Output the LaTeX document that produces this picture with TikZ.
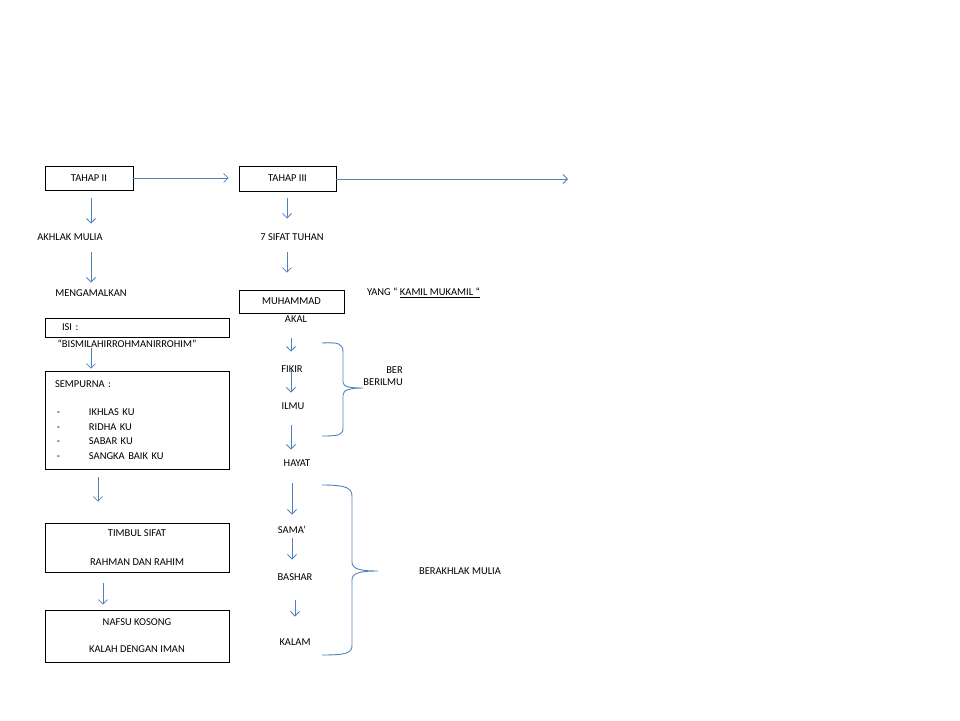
\documentclass[tikz,border=0pt]{standalone}
\usepackage{fontspec}
\setmainfont{Carlito}
\usetikzlibrary{arrows.meta}

\tikzset{
  box/.style = {draw=black, line width=0.7pt, inner sep=0pt, align=center},
  lbl/.style = {inner sep=1pt, text height=6.8pt, text depth=0pt},
  arr/.style = {draw={rgb,255:red,79;green,129;blue,189}, line width=0.75pt,
                -{Straight Barb[length=4.5pt,width=9pt]}},
  brc/.style = {draw={rgb,255:red,79;green,129;blue,189}, line width=0.9pt}
}

\begin{document}
\begin{tikzpicture}[x=1pt, y=-1pt, font=\fontsize{10.5}{14.7}\selectfont]
\useasboundingbox (0,0) rectangle (960,720);

% left column
\node[box, minimum width=88, minimum height=24] (tahapii) at (89,178) {TAHAP II};
\node[lbl] (akhlak) at (70,237) {AKHLAK MULIA};
\node[lbl] (mengamalkan) at (91,293) {MENGAMALKAN};
\node[box, minimum width=184, minimum height=19, inner xsep=17pt, text width=150pt, align=left] (isi) at (137,327.5) {ISI :};
\node[lbl] (bismillah) at (127,344) {“BISMILAHIRROHMANIRROHIM”};
\node[box, minimum width=184, minimum height=98, inner xsep=10pt, text width=164pt, align=left] (sempurna) at (137,420)
  {SEMPURNA :\\[13.3pt]
   \makebox[34pt][l]{\,-}IKHLAS KU\\
   \makebox[34pt][l]{\,-}RIDHA KU\\
   \makebox[34pt][l]{\,-}SABAR KU\\
   \makebox[34pt][l]{\,-}SANGKA BAIK KU};
\node[box, minimum width=184, minimum height=49] (timbul) at (137,547.5) {TIMBUL SIFAT\\[14.3pt]RAHMAN DAN RAHIM};
\node[box, minimum width=184, minimum height=52] (nafsu) at (137,636) {NAFSU KOSONG\\[12.3pt]KALAH DENGAN IMAN};

% right column
\node[box, minimum width=97, minimum height=25] (tahapiii) at (287.5,178.5) {TAHAP III};
\coordinate (ujung) at (568,179);
\node[lbl] (sifat) at (292,237) {7 SIFAT TUHAN};
\node[box, minimum width=105, minimum height=23] (muhammad) at (291.5,301.5) {MUHAMMAD};
\node[lbl] (yang) at (423.5,292) {YANG “ \underline{KAMIL MUKAMIL “}};
\node[lbl] (akal) at (296,319) {AKAL};
\node[lbl] (fikir) at (292,369) {FIKIR};
\node[lbl] (ilmu) at (293,406) {ILMU};
\node[lbl] (hayat) at (297,463) {HAYAT};
\node[lbl] (sama) at (292,530) {SAMA’};
\node[lbl] (bashar) at (295,577) {BASHAR};
\node[lbl] (kalam) at (295,642) {KALAM};
\node[inner sep=0pt, align=right, anchor=east, font=\fontsize{10.5}{12}\selectfont] (berilmu) at (403,376) {BER\\BERILMU};
\node[lbl] (berakhlak) at (460,571) {BERAKHLAK MULIA};

% arrows
\draw[arr, shorten >=10pt] (tahapii.east) -- (tahapii.east -| tahapiii.west);
\draw[arr] (tahapiii.east |- ujung) -- (ujung);
\draw[arr, shorten <=8pt, shorten >=8.9pt] (tahapii.south -| 91,0) -- (akhlak.north -| 91,0);
\draw[arr, shorten <=10.6pt, shorten >=5.9pt] (akhlak.south -| 91,0) -- (mengamalkan.north -| 91,0);
\draw[arr, shorten <=11pt, shorten >=2pt] (isi.south -| 91,0) -- (sempurna.north -| 91,0);
\draw[arr, shorten <=8pt, shorten >=21pt] (sempurna.south -| 98,0) -- (timbul.north -| 98,0);
\draw[arr, shorten <=11pt, shorten >=5pt] (timbul.south -| 103,0) -- (nafsu.north -| 103,0);
\draw[arr, shorten <=7pt, shorten >=13.9pt] (tahapiii.south -| 287,0) -- (sifat.north -| 287,0);
\draw[arr, shorten <=10.6pt, shorten >=17pt] (sifat.south -| 287,0) -- (muhammad.north -| 287,0);
\draw[arr, shorten <=14.6pt, shorten >=12.9pt] (akal.south -| 291,0) -- (fikir.north -| 291,0);
\draw[arr, shorten <=1pt, shorten >=8.9pt] (fikir.center -| 291,0) -- (ilmu.north -| 291,0);
\draw[arr, shorten <=14.6pt, shorten >=8.9pt] (ilmu.south -| 291,0) -- (hayat.north -| 291,0);
\draw[arr, shorten <=15.6pt, shorten >=10.9pt] (hayat.south -| 292,0) -- (sama.north -| 292,0);
\draw[arr, shorten <=3.6pt, shorten >=12.9pt] (sama.south -| 292,0) -- (bashar.north -| 292,0);
\draw[arr, shorten <=18.6pt, shorten >=20.9pt] (bashar.south -| 295,0) -- (kalam.north -| 295,0);

% braces
\draw[brc] (322,343) .. controls (339,342) and (343,344) .. (343,352) -- (343,382)
  .. controls (343,387) and (350,388) .. (363,388)
  .. controls (350,388) and (343,390) .. (343,395) -- (343,428)
  .. controls (343,435) and (339,436) .. (322,436);
\draw[brc] (322,485) .. controls (347,485) and (352,488) .. (352,497) -- (352,562)
  .. controls (352,569) and (360,571) .. (378,571)
  .. controls (360,571) and (352,573) .. (352,580) -- (352,645)
  .. controls (352,653) and (347,655) .. (322,655);

\end{tikzpicture}
\end{document}
